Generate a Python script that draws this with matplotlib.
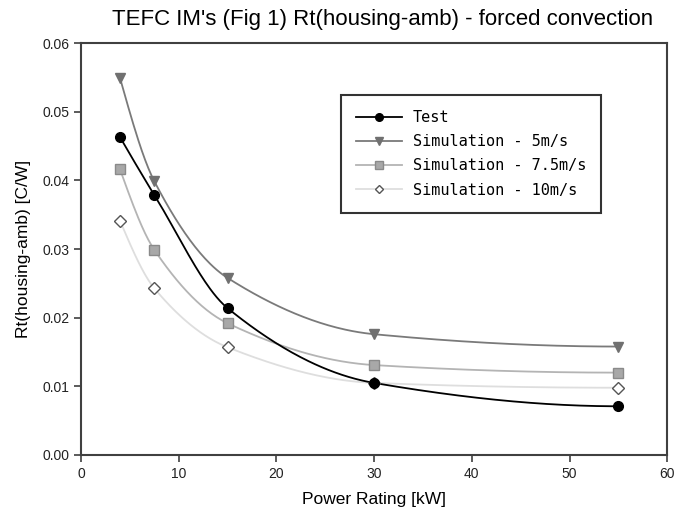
import numpy as np
import matplotlib
matplotlib.use("Agg")
import matplotlib.pyplot as plt

plt.rcParams['font.family'] = ['Liberation Sans', 'DejaVu Sans']

power_kw = [4, 7.5, 15, 30, 55]
test = [0.0463, 0.0379, 0.0214, 0.0105, 0.0071]
sim_5 = [0.0549, 0.0399, 0.0258, 0.0176, 0.0158]
sim_75 = [0.0416, 0.0299, 0.0192, 0.0131, 0.0120]
sim_10 = [0.0341, 0.0243, 0.0157, 0.0105, 0.0098]
labels = ['Test', 'Simulation - 5m/s', 'Simulation - 7.5m/s', 'Simulation - 10m/s']


def pchip(x, y, xs):
    x = np.asarray(x, float); y = np.asarray(y, float)
    h = np.diff(x); d = np.diff(y) / h
    m = np.zeros_like(y)
    for k in range(1, len(x) - 1):
        if d[k - 1] * d[k] > 0:
            w1 = 2 * h[k] + h[k - 1]; w2 = h[k] + 2 * h[k - 1]
            m[k] = (w1 + w2) / (w1 / d[k - 1] + w2 / d[k])
    m[0] = ((2 * h[0] + h[1]) * d[0] - h[0] * d[1]) / (h[0] + h[1])
    if np.sign(m[0]) != np.sign(d[0]):
        m[0] = 0
    m[-1] = ((2 * h[-1] + h[-2]) * d[-1] - h[-1] * d[-2]) / (h[-1] + h[-2])
    if np.sign(m[-1]) != np.sign(d[-1]):
        m[-1] = 0
    out = np.empty_like(xs)
    for i, xv in enumerate(xs):
        k = min(np.searchsorted(x, xv, side='right') - 1, len(x) - 2)
        k = max(k, 0)
        t = (xv - x[k]) / h[k]
        h00 = 2 * t**3 - 3 * t**2 + 1; h10 = t**3 - 2 * t**2 + t
        h01 = -2 * t**3 + 3 * t**2; h11 = t**3 - t**2
        out[i] = h00 * y[k] + h10 * h[k] * m[k] + h01 * y[k + 1] + h11 * h[k] * m[k + 1]
    return out


fig = plt.figure(figsize=(6.77, 5.20), dpi=100)
ax = fig.add_axes([0.1196, 0.125, 0.866, 0.792])

xs = np.linspace(power_kw[0], power_kw[-1], 300)
styles = [
    dict(series=test, lc='#000000', marker='o', mfc='#000000', mec='#000000', ms=7, lw=1.3),
    dict(series=sim_5, lc='#7a7a7a', marker='v', mfc='#707070', mec='#707070', ms=7, lw=1.3),
    dict(series=sim_75, lc='#b4b4b4', marker='s', mfc='#a8a8a8', mec='#8a8a8a', ms=7, lw=1.3),
    dict(series=sim_10, lc='#dedede', marker='D', mfc='#ffffff', mec='#555555', ms=6, lw=1.3),
]
handles = []
for z, (st, lab) in enumerate(zip(styles, labels)):
    ax.plot(xs, pchip(power_kw, st['series'], xs), color=st['lc'], lw=st['lw'], zorder=5 - z)
    ax.plot(power_kw, st['series'], linestyle='none', marker=st['marker'],
            mfc=st['mfc'], mec=st['mec'], ms=st['ms'], zorder=10 - z)
    h, = ax.plot([], [], color=st['lc'], lw=st['lw'], marker=st['marker'],
                 mfc=st['mfc'], mec=st['mec'], ms=st['ms'] - 1.5, label=lab)
    handles.append(h)

ax.set_xlim(0, 60)
ax.set_ylim(0, 0.06)
ax.set_xticks(np.arange(0, 61, 10))
ax.set_yticks(np.arange(0, 0.0601, 0.01))
ax.set_yticklabels(['%.2f' % v for v in np.arange(0, 0.0601, 0.01)])
ax.tick_params(direction='out', length=5, width=1.2, colors='#404040',
               labelcolor='#222222', labelsize=10, top=False, right=False)
for sp in ax.spines.values():
    sp.set_color('#404040')
    sp.set_linewidth(1.5)

ax.set_xlabel('Power Rating [kW]', fontsize=12.5, labelpad=8)
ax.set_ylabel('Rt(housing-amb) [C/W]', fontsize=12.5, labelpad=8)
fig.text(0.565, 0.962, "TEFC IM's (Fig 1) Rt(housing-amb) - forced convection",
         ha='center', va='center', fontsize=16)

leg = ax.legend(handles=handles, loc='upper left', bbox_to_anchor=(0.43, 0.893),
                frameon=True, fancybox=False, handlelength=3.0,
                borderpad=1.0, labelspacing=0.6, handletextpad=0.7,
                prop={'family': 'DejaVu Sans Mono', 'size': 11})
leg.get_frame().set_edgecolor('#000000')
leg.get_frame().set_linewidth(1.5)

fig.savefig('out.png', dpi=100)
